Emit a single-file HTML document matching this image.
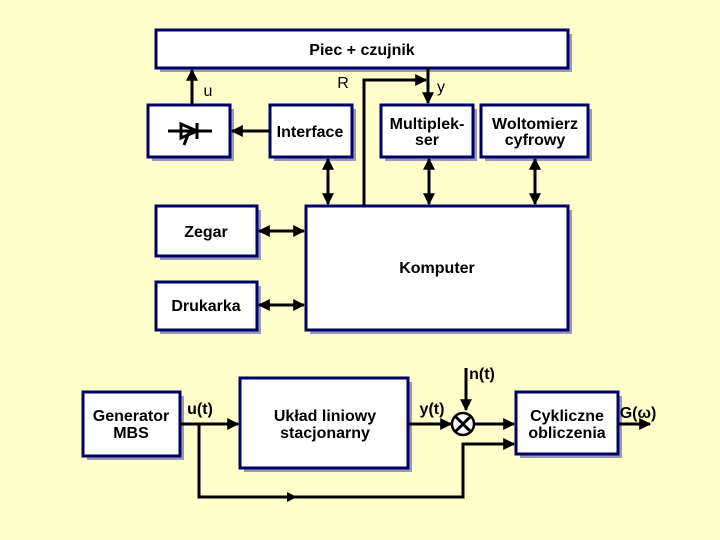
<!DOCTYPE html>
<html><head><meta charset="utf-8"><style>
body{margin:0;background:#FFFFCC;}
svg{display:block}
text{font-family:"Liberation Sans",sans-serif;font-size:16px;fill:#000;text-anchor:middle;font-weight:bold}
text.n{font-weight:normal}
.b{fill:#fff;stroke:#000066;stroke-width:3}
.s{fill:#9a9ab8}
.l{stroke:#000;stroke-width:3;fill:none}
</style></head><body>
<svg width="720" height="540" viewBox="0 0 720 540">
<defs><marker id="a" viewBox="0 0 10 10" refX="9" refY="5" markerWidth="4" markerHeight="4" orient="auto-start-reverse"><path d="M0,0L10,5L0,10z" fill="#000"/></marker></defs>
<g>
<rect class="s" x="160" y="34" width="412" height="38"/><rect class="b" x="156" y="30" width="412" height="38"/>
<rect class="s" x="152" y="109" width="82" height="52"/><rect class="b" x="148" y="105" width="82" height="52"/>
<rect class="s" x="274" y="109" width="82" height="52"/><rect class="b" x="270" y="105" width="82" height="52"/>
<rect class="s" x="385" y="109" width="92" height="52"/><rect class="b" x="381" y="105" width="92" height="52"/>
<rect class="s" x="485" y="109" width="107" height="52"/><rect class="b" x="481" y="105" width="107" height="52"/>
<rect class="s" x="160" y="210" width="101" height="50"/><rect class="b" x="156" y="206" width="101" height="50"/>
<rect class="s" x="310" y="210" width="262" height="124"/><rect class="b" x="306" y="206" width="262" height="124"/>
<rect class="s" x="160" y="286" width="101" height="48"/><rect class="b" x="156" y="282" width="101" height="48"/>
<rect class="s" x="87" y="396" width="97" height="64"/><rect class="b" x="83" y="392" width="97" height="64"/>
<rect class="s" x="244" y="382" width="168" height="90"/><rect class="b" x="240" y="378" width="168" height="90"/>
<rect class="s" x="520" y="396" width="102" height="62"/><rect class="b" x="516" y="392" width="102" height="62"/>
</g>
<text x="362" y="55">Piec + czujnik</text>
<text x="310" y="137">Interface</text>
<text x="427" y="129">Multiplek-</text><text x="427" y="145">ser</text>
<text x="535" y="129">Woltomierz</text><text x="535" y="145">cyfrowy</text>
<text x="206" y="237">Zegar</text>
<text x="437" y="273">Komputer</text>
<text x="206" y="311">Drukarka</text>
<text x="131" y="421">Generator</text><text x="131" y="438">MBS</text>
<text x="325" y="421">Układ liniowy</text><text x="325" y="438">stacjonarny</text>
<text x="567" y="421">Cykliczne</text><text x="567" y="438">obliczenia</text>
<text class="n" x="208" y="96">u</text><text class="n" x="343" y="88">R</text><text class="n" x="441" y="92">y</text>
<text x="200" y="414">u(t)</text><text x="432" y="414">y(t)</text><text x="482" y="379">n(t)</text><text x="638" y="418">G(ω)</text>
<path class="l" d="M168,131H212M181,124V138L197,131Z M197,123V139" stroke-width="2.5"/>
<path class="l" d="M189,132L184,145" stroke-width="2"/>
<path class="l" d="M192,105V70" marker-end="url(#a)"/>
<path class="l" d="M270,131H232" marker-end="url(#a)"/>
<path class="l" d="M364,206V80H426" marker-end="url(#a)"/>
<path class="l" d="M428,68V103" marker-end="url(#a)"/>
<path class="l" d="M328,159V204" marker-start="url(#a)" marker-end="url(#a)"/>
<path class="l" d="M429,159V204" marker-start="url(#a)" marker-end="url(#a)"/>
<path class="l" d="M535,159V204" marker-start="url(#a)" marker-end="url(#a)"/>
<path class="l" d="M259,231H304" marker-start="url(#a)" marker-end="url(#a)"/>
<path class="l" d="M259,305H304" marker-start="url(#a)" marker-end="url(#a)"/>
<path class="l" d="M180,424H238" marker-end="url(#a)"/>
<path class="l" d="M199,424V497H463V444H514" marker-end="url(#a)"/>
<path d="M287,492L297,497L287,502Z"/>
<path class="l" d="M408,424H451" marker-end="url(#a)"/>
<path class="l" d="M466,368V410" marker-end="url(#a)"/>
<path class="l" d="M475,424H514" marker-end="url(#a)"/>
<path class="l" d="M618,424H650" marker-end="url(#a)"/>
<circle cx="463" cy="424" r="11" fill="#fff" stroke="#000" stroke-width="2.5"/>
<path class="l" d="M455,416L471,432M471,416L455,432" stroke-width="2.5"/>
</svg>
</body></html>
